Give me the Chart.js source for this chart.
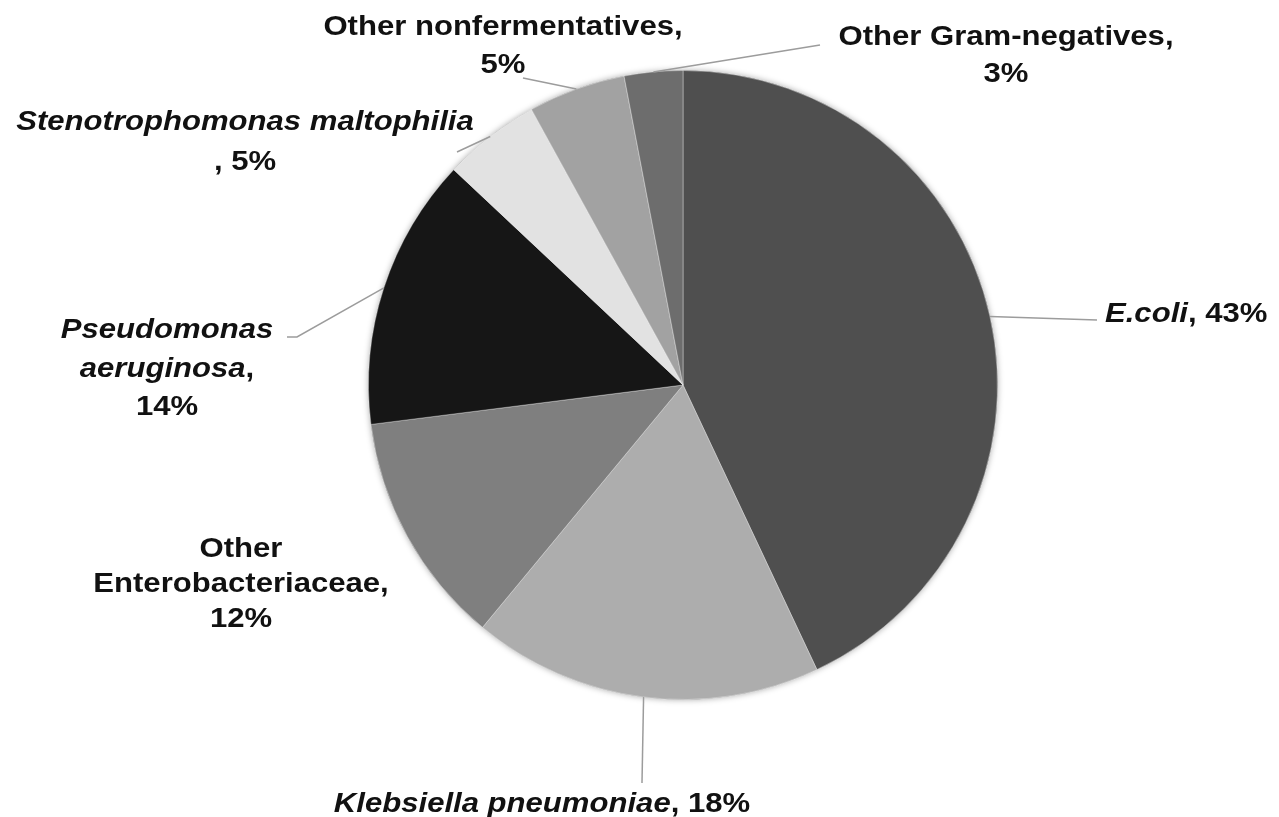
<!DOCTYPE html>
<html>
<head>
<meta charset="utf-8">
<script src="https://cdn.jsdelivr.net/npm/chart.js@4.4.1/dist/chart.umd.min.js"></script>
<style>
  html, body { margin: 0; padding: 0; background: #ffffff; }
  #wrap { width: 1279px; height: 817px; position: relative; }
</style>
</head>
<body>
<div id="wrap"><canvas id="c" width="1279" height="817"></canvas></div>
<script>
// ---- Data ----
const categories = ['E.coli', 'Klebsiella pneumoniae', 'Other Enterobacteriaceae', 'Pseudomonas aeruginosa', 'Stenotrophomonas maltophilia', 'Other nonfermentatives', 'Other Gram-negatives'];
const shares = [43, 18, 12, 14, 5, 5, 3];
const italicNames = [true, true, false, true, true, false, false];
const sliceColors = ['#4f4f4f', '#adadad', '#7f7f7f', '#161616', '#e2e2e2', '#a2a2a2', '#6d6d6d'];

// ---- Label layout (text placement + leader lines) ----
const labelLayout = [
  { align: 'left',   x: 1105, base: [322],           lines: [['N', ', ', 'V']],            leader: [[1097, 320]] },
  { align: 'center', x: 542,  base: [812],           lines: [['N', ', ', 'V']],            leader: [[642, 783]] },
  { align: 'center', x: 241,  base: [557, 592, 627], lines: [['N0'], ['N1', ','], ['V']],  leader: null },
  { align: 'center', x: 167,  base: [338, 377, 415], lines: [['N0'], ['N1', ','], ['V']],  leader: [[297, 337], [287, 337]] },
  { align: 'center', x: 245,  base: [130, 170],      lines: [['N'], [', ', 'V']],          leader: [[457, 152]] },
  { align: 'center', x: 503,  base: [35, 73],        lines: [['N', ','], ['V']],           leader: [[523, 78]] },
  { align: 'center', x: 1006, base: [45, 82],        lines: [['N', ','], ['V']],           leader: [[820, 45]] }
];

const FONT_FAMILY = '"Liberation Sans", Arial, Helvetica, sans-serif';
const FONT_SIZE = 28;
const X_STRETCH = 1.11;

function pieces(i, line) {
  const words = categories[i].split(' ');
  return line.map(tok => {
    if (tok === 'N') return { t: categories[i], it: italicNames[i] };
    if (tok === 'N0') return { t: words[0], it: italicNames[i] };
    if (tok === 'N1') return { t: words.slice(1).join(' '), it: italicNames[i] };
    if (tok === 'V') return { t: shares[i] + '%', it: false };
    return { t: tok, it: false };
  });
}

const shadowPlugin = {
  id: 'pieShadow',
  beforeDatasetsDraw(chart) {
    const arcs = chart.getDatasetMeta(0).data;
    if (!arcs.length) return;
    const a = arcs[0];
    const ctx = chart.ctx;
    ctx.save();
    ctx.shadowColor = 'rgba(0,0,0,0.35)';
    ctx.shadowBlur = 6;
    ctx.fillStyle = '#888';
    ctx.beginPath();
    ctx.arc(a.x, a.y, a.outerRadius, 0, Math.PI * 2);
    ctx.fill();
    ctx.restore();
  }
};

const labelPlugin = {
  id: 'pieLabels',
  afterDatasetsDraw(chart) {
    const ctx = chart.ctx;
    const arcs = chart.getDatasetMeta(0).data;
    ctx.save();
    // leader lines
    ctx.strokeStyle = '#9c9c9c';
    ctx.lineWidth = 1.5;
    arcs.forEach((arc, i) => {
      const L = labelLayout[i];
      if (!L || !L.leader) return;
      const mid = (arc.startAngle + arc.endAngle) / 2;
      const sx = arc.x + Math.cos(mid) * arc.outerRadius;
      const sy = arc.y + Math.sin(mid) * arc.outerRadius;
      ctx.beginPath();
      ctx.moveTo(sx, sy);
      L.leader.forEach(p => ctx.lineTo(p[0], p[1]));
      ctx.stroke();
    });
    // texts
    ctx.fillStyle = '#111111';
    ctx.textBaseline = 'alphabetic';
    ctx.textAlign = 'left';
    arcs.forEach((arc, i) => {
      const L = labelLayout[i];
      if (!L) return;
      L.lines.forEach((line, li) => {
        const ps = pieces(i, line);
        let w = 0;
        ps.forEach(p => {
          ctx.font = (p.it ? 'italic ' : '') + 'bold ' + FONT_SIZE + 'px ' + FONT_FAMILY;
          p.w = ctx.measureText(p.t).width;
          w += p.w;
        });
        ctx.save();
        ctx.translate(L.x, L.base[li]);
        ctx.scale(X_STRETCH, 1);
        let cx = L.align === 'center' ? -w / 2 : 0;
        ps.forEach(p => {
          ctx.font = (p.it ? 'italic ' : '') + 'bold ' + FONT_SIZE + 'px ' + FONT_FAMILY;
          ctx.fillText(p.t, cx, 0);
          cx += p.w;
        });
        ctx.restore();
      });
    });
    ctx.restore();
  }
};

new Chart(document.getElementById('c'), {
  type: 'pie',
  data: {
    labels: categories,
    datasets: [{
      data: shares,
      backgroundColor: sliceColors,
      borderColor: 'rgba(255,255,255,0.35)',
      borderWidth: 1
    }]
  },
  options: {
    responsive: false,
    animation: false,
    layout: { padding: { left: 368, right: 281, top: 70, bottom: 117 } },
    plugins: {
      legend: { display: false },
      tooltip: { enabled: false }
    }
  },
  plugins: [shadowPlugin, labelPlugin]
});
</script>
</body>
</html>
